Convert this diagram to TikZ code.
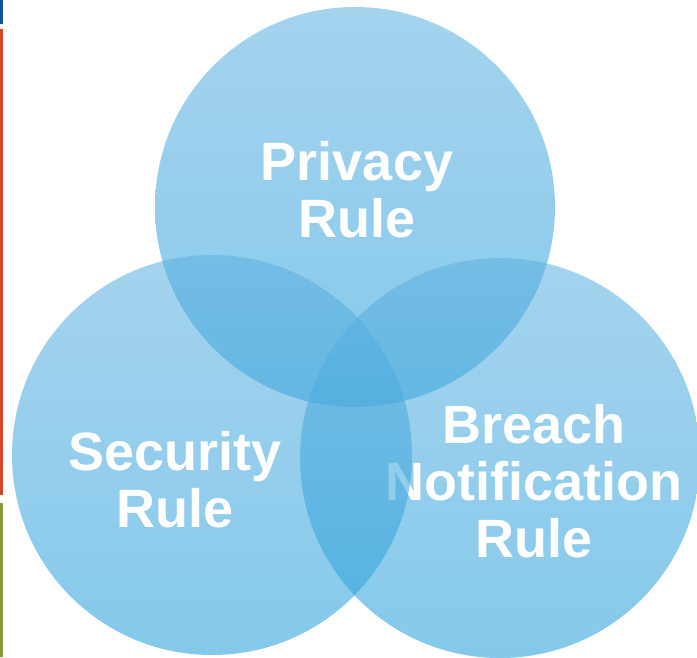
\documentclass[tikz,border=0pt]{standalone}
\usepackage{fontspec}
\setmainfont{Liberation Sans}

\definecolor{ruletop}{RGB}{96,178,225}
\definecolor{rulebot}{RGB}{40,160,218}
\definecolor{barblue}{RGB}{20,85,145}
\definecolor{barred}{RGB}{208,74,42}
\definecolor{barolive}{RGB}{138,154,58}

\tikzset{
  rulecircle/.style={circle, minimum size=400pt, inner sep=0pt,
    top color=ruletop, bottom color=rulebot, fill opacity=0.57},
  ruletext/.style={text=white, align=center, anchor=base,
    font=\bfseries\fontsize{54}{57}\selectfont}
}

\begin{document}
\begin{tikzpicture}[x=1pt, y=-1pt]

\useasboundingbox (0, 0) rectangle (697, 657);

% side bars
\coordinate (b1) at (1.5, 0);
\coordinate (b2) at (1.5, 24);
\coordinate (r1) at (1.5, 29);
\coordinate (r2) at (1.5, 495);
\coordinate (o1) at (1.5, 503);
\coordinate (o2) at (1.5, 657);
\draw[barblue, line width=3pt] (b1) -- (b2);
\draw[barred, line width=3pt] (r1) -- (r2);
\draw[barolive, line width=3pt] (o1) -- (o2);

% circles
\node[rulecircle] (privacy) at (355, 207) {};
\node[ruletext] (privacytext) at (357, 237) {Privacy\\Rule};

\node[rulecircle] (breach) at (500, 458) {};
\node[ruletext] (breachtext) at (534, 557) {Breach\\Notification\\Rule};

\node[rulecircle] (security) at (212, 455) {};
\node[ruletext] (securitytext) at (175, 527) {Security\\Rule};

\end{tikzpicture}
\end{document}
